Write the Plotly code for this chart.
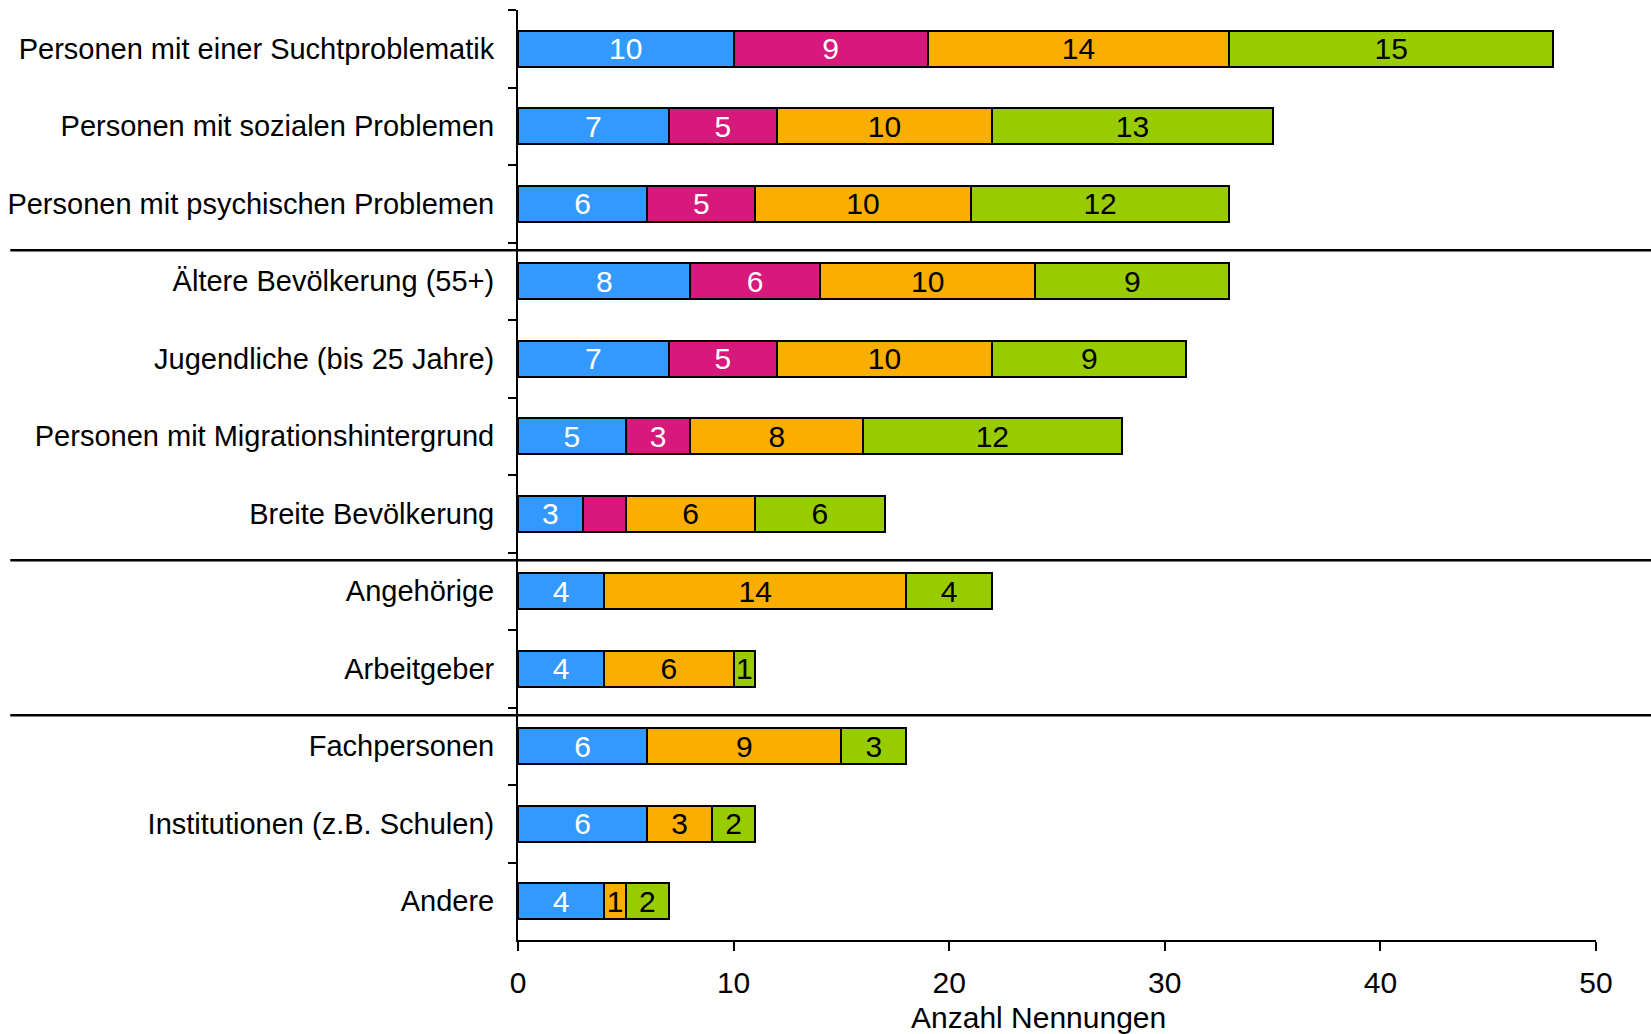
import plotly.graph_objects as go

# Zielgruppen (top to bottom)
categories = [
    "Personen mit einer Suchtproblematik",
    "Personen mit sozialen Problemen",
    "Personen mit psychischen Problemen",
    "Ältere Bevölkerung (55+)",
    "Jugendliche (bis 25 Jahre)",
    "Personen mit Migrationshintergrund",
    "Breite Bevölkerung",
    "Angehörige",
    "Arbeitgeber",
    "Fachpersonen",
    "Institutionen (z.B. Schulen)",
    "Andere",
]

# Anzahl Nennungen per segment
blue_vals = [10, 7, 6, 8, 7, 5, 3, 4, 4, 6, 6, 4]
magenta_vals = [9, 5, 5, 6, 5, 3, 2, 0, 0, 0, 0, 0]
orange_vals = [14, 10, 10, 10, 10, 8, 6, 14, 6, 9, 3, 1]
green_vals = [15, 13, 12, 9, 9, 12, 6, 4, 1, 3, 2, 2]

# segments whose value is not printed on the bar
hidden_labels = {("magenta", "Breite Bevölkerung")}

# group separators sit just below these category boundaries
separator_after = [2, 6, 8]

x_ticks = [0, 10, 20, 30, 40, 50]
x_title = "Anzahl Nennungen"

FONT = "Liberation Sans, Arial, sans-serif"

series = [
    ("blue", blue_vals, "#3399FF", "white"),
    ("magenta", magenta_vals, "#D6197A", "white"),
    ("orange", orange_vals, "#F9AE00", "black"),
    ("green", green_vals, "#99CC00", "black"),
]

fig = go.Figure()
for name, vals, color, txtcol in series:
    labels = []
    for cat, v in zip(categories, vals):
        if v == 0 or (name, cat) in hidden_labels:
            labels.append("")
        else:
            labels.append(str(v))
    fig.add_trace(go.Bar(
        y=categories,
        x=vals,
        orientation="h",
        name=name,
        marker=dict(color=color, line=dict(color="black", width=2)),
        text=labels,
        textposition="inside",
        insidetextanchor="middle",
        constraintext="none",
        textangle=0,
        textfont=dict(family=FONT, size=30, color=txtcol),
        width=0.47,
        showlegend=False,
        hoverinfo="skip",
    ))

shapes = []
for idx in separator_after:
    shapes.append(dict(
        type="line", xref="paper", yref="y",
        x0=-0.471, x1=1.06, y0=idx + 0.6, y1=idx + 0.6,
        line=dict(color="black", width=2.5),
    ))

fig.update_layout(
    barmode="stack",
    width=1651,
    height=1034,
    margin=dict(l=518, r=55, t=10, b=94),
    paper_bgcolor="white",
    plot_bgcolor="white",
    font=dict(family=FONT, size=29, color="black"),
    shapes=shapes,
    annotations=[dict(
        text=x_title, xref="paper", yref="paper",
        x=0.483, y=-0.083, xanchor="center", yanchor="middle",
        showarrow=False, font=dict(family=FONT, size=30),
    )],
    xaxis=dict(
        range=[0, 50],
        tickvals=x_ticks,
        ticks="outside",
        ticklen=9,
        tickwidth=2,
        tickcolor="black",
        showline=True,
        linecolor="black",
        linewidth=2,
        showgrid=False,
        zeroline=False,
        automargin=False,
        tickfont=dict(family=FONT, size=30),
        ticklabelstandoff=6,
    ),
    yaxis=dict(
        categoryorder="array",
        categoryarray=categories,
        autorange="reversed",
        ticks="outside",
        tickson="boundaries",
        ticklen=8,
        tickwidth=2,
        tickcolor="black",
        showline=True,
        linecolor="black",
        linewidth=2,
        showgrid=False,
        zeroline=False,
        automargin=False,
        tickfont=dict(family=FONT, size=29),
        ticklabelstandoff=16,
    ),
)

fig.write_html("out.html")
